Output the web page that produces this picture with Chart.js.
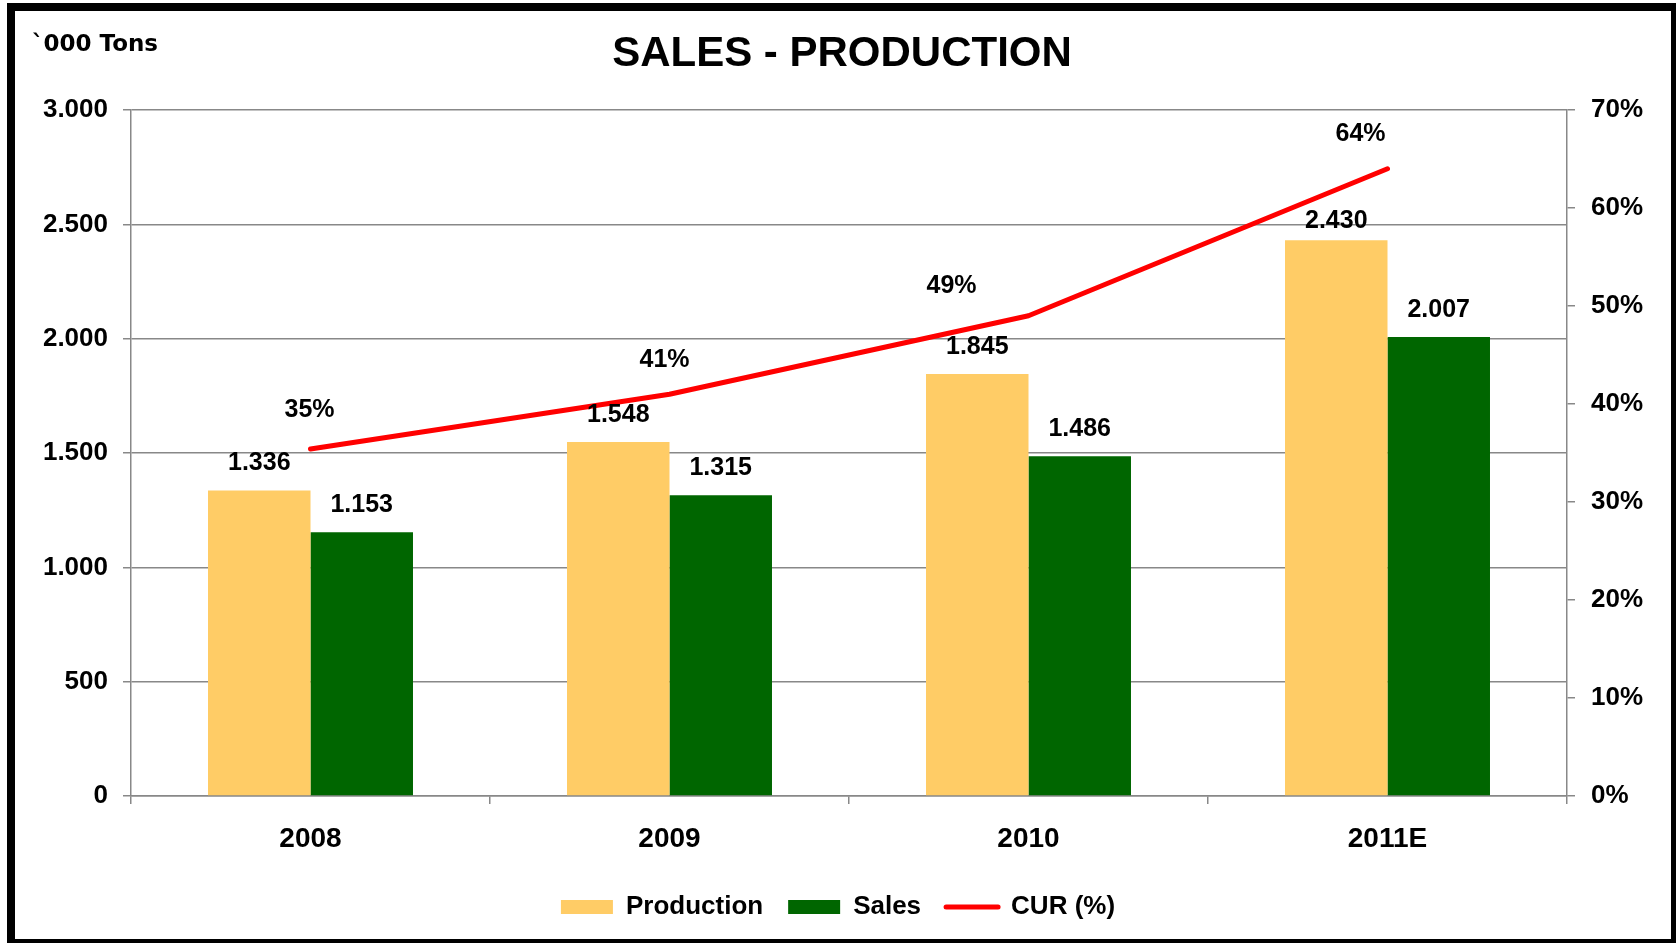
<!DOCTYPE html>
<html>
<head>
<meta charset="utf-8">
<title>Sales - Production</title>
<script src="https://cdn.jsdelivr.net/npm/chart.js@4/dist/chart.umd.min.js"></script>
<style>
  html, body { margin: 0; padding: 0; background: #ffffff; }
  canvas { display: block; }
</style>
</head>
<body>
<canvas id="salesChart" width="1676" height="943"></canvas>
<script>
// chart values
const categories = ['2008', '2009', '2010', '2011E'];
const production = [1336, 1548, 1845, 2430];
const sales = [1153, 1315, 1486, 2007];
const curPct = [35.4, 41, 49, 64];
const seriesNames = ['Production', 'Sales', 'CUR (%)'];

const FONT = "'Liberation Sans', Arial, sans-serif";
const GRID = '#888888';

function dotThousands(v) {
  return String(Math.round(v)).replace(/\B(?=(\d{3})+(?!\d))/g, '.');
}

// label nudges, picked to sit where the original put them
const barLabelLift = [[27, 27, 27, 19], [27, 27, 27, 27]];
const lineLabelShift = [[-1, -39], [-5, -34], [-77, -30], [-27, -35]];

const framePlugin = {
  id: 'frame',
  afterDraw(chart) {
    const ctx = chart.ctx;
    ctx.save();
    ctx.lineWidth = 8;
    ctx.strokeStyle = '#000000';
    ctx.strokeRect(11, 7, 1664, 936);

    ctx.fillStyle = '#000000';
    ctx.textBaseline = 'middle';
    ctx.textAlign = 'center';
    ctx.font = "bold 42px " + FONT;
    ctx.fillText('SALES - PRODUCTION', 842, 54);

    ctx.textAlign = 'left';
    ctx.font = "bold 23px 'DejaVu Sans', sans-serif";
    ctx.fillText('`000 Tons', 32, 45);
    ctx.restore();
  }
};

const valueLabels = {
  id: 'valueLabels',
  afterDatasetsDraw(chart) {
    const ctx = chart.ctx;
    ctx.save();
    ctx.fillStyle = '#000000';
    ctx.textAlign = 'center';
    ctx.textBaseline = 'middle';
    ctx.font = "bold 25px " + FONT;
    [0, 1].forEach(di => {
      const meta = chart.getDatasetMeta(di);
      meta.data.forEach((bar, i) => {
        const v = chart.data.datasets[di].data[i];
        ctx.fillText(dotThousands(v), bar.x, bar.y - barLabelLift[di][i]);
      });
    });
    const lineMeta = chart.getDatasetMeta(2);
    lineMeta.data.forEach((pt, i) => {
      const v = chart.data.datasets[2].data[i];
      const s = lineLabelShift[i];
      ctx.fillText(Math.round(v) + '%', pt.x + s[0], pt.y + s[1]);
    });
    ctx.restore();
  }
};

Chart.defaults.font.family = FONT;
Chart.defaults.font.weight = 'bold';
Chart.defaults.color = '#000000';

const ctx = document.getElementById('salesChart').getContext('2d');
new Chart(ctx, {
  type: 'bar',
  data: {
    labels: categories,
    datasets: [
      {
        label: seriesNames[0],
        data: production,
        backgroundColor: '#FFCC66',
        borderWidth: 0,
        categoryPercentage: 0.571,
        barPercentage: 1.0,
        yAxisID: 'y',
        order: 1
      },
      {
        label: seriesNames[1],
        data: sales,
        backgroundColor: '#006600',
        borderWidth: 0,
        categoryPercentage: 0.571,
        barPercentage: 1.0,
        yAxisID: 'y',
        order: 1
      },
      {
        type: 'line',
        label: seriesNames[2],
        data: curPct,
        borderColor: '#FF0000',
        backgroundColor: '#FF0000',
        borderWidth: 5,
        borderCapStyle: 'round',
        borderJoinStyle: 'round',
        pointRadius: 0,
        tension: 0,
        fill: false,
        yAxisID: 'y1',
        order: 0
      }
    ]
  },
  options: {
    responsive: false,
    animation: false,
    devicePixelRatio: 1,
    layout: { padding: { top: 110, left: 0, right: 0, bottom: 13 } },
    plugins: {
      title: { display: false },
      tooltip: { enabled: false },
      legend: {
        position: 'bottom',
        labels: {
          usePointStyle: true,
          pointStyleWidth: 52,
          boxHeight: 14,
          padding: 25,
          color: '#000000',
          font: { size: 26, weight: 'bold', family: FONT },
          sort: (a, b) => a.datasetIndex - b.datasetIndex,
          generateLabels(chart) {
            const items = Chart.defaults.plugins.legend.labels.generateLabels(chart);
            items.forEach(it => {
              const ds = chart.data.datasets[it.datasetIndex];
              if (ds.type === 'line') {
                it.pointStyle = 'line';
                it.lineWidth = 5;
                it.strokeStyle = '#FF0000';
                it.lineCap = 'round';
              } else {
                it.pointStyle = 'rect';
                it.lineWidth = 0;
              }
            });
            return items;
          }
        }
      }
    },
    scales: {
      x: {
        afterFit(scale) { scale.height = 73; },
        grid: {
          offset: true,
          drawOnChartArea: false,
          drawTicks: true,
          tickLength: 8,
          color: GRID,
          lineWidth: 1.5
        },
        border: { color: GRID, width: 1.5 },
        ticks: { padding: 18, font: { size: 28, weight: 'bold' }, color: '#000000' }
      },
      y: {
        position: 'left',
        min: 0,
        max: 3000,
        afterFit(scale) { scale.width = 131; },
        grid: { color: GRID, lineWidth: 1.5, tickLength: 8, tickColor: GRID },
        border: { color: GRID, width: 1.5 },
        ticks: {
          stepSize: 500,
          padding: 15,
          font: { size: 26, weight: 'bold' },
          color: '#000000',
          callback: v => dotThousands(v)
        }
      },
      y1: {
        position: 'right',
        min: 0,
        max: 70,
        afterFit(scale) { scale.width = 109; },
        grid: { drawOnChartArea: false, tickLength: 8, color: GRID, lineWidth: 1.5 },
        border: { color: GRID, width: 1.5 },
        ticks: {
          stepSize: 10,
          padding: 16,
          font: { size: 26, weight: 'bold' },
          color: '#000000',
          callback: v => v + '%'
        }
      }
    }
  },
  plugins: [framePlugin, valueLabels]
});
</script>
</body>
</html>
